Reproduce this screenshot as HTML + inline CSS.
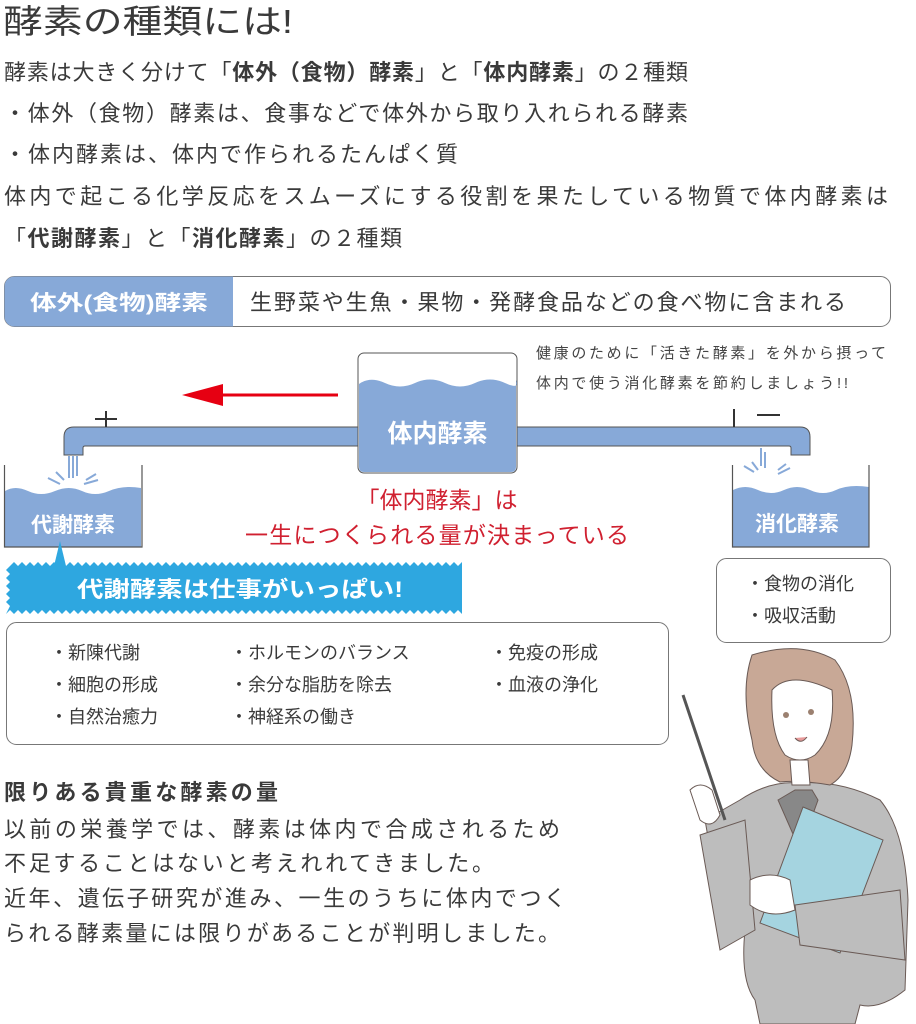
<!DOCTYPE html>
<html><head><meta charset="utf-8"><style>
html,body{margin:0;padding:0;background:#fff;}
svg{display:block;font-family:"Liberation Sans","Noto Sans CJK JP",sans-serif;}
</style></head><body>
<svg width="916" height="1024" viewBox="0 0 916 1024" xmlns="http://www.w3.org/2000/svg">
<g fill="#3a3a3a">
<text x="3" y="33" font-size="33" textLength="290" lengthAdjust="spacingAndGlyphs">酵素の種類には!</text>
<text x="4" y="80" font-size="22" textLength="684" lengthAdjust="spacing">酵素は大きく分けて「<tspan font-weight="bold">体外（食物）酵素</tspan>」と「<tspan font-weight="bold">体内酵素</tspan>」の２種類</text>
<text x="4" y="121" font-size="22" textLength="684" lengthAdjust="spacing">・体外（食物）酵素は、食事などで体外から取り入れられる酵素</text>
<text x="4" y="162" font-size="22" textLength="454" lengthAdjust="spacing">・体内酵素は、体内で作られるたんぱく質</text>
<text x="4" y="204" font-size="22" textLength="884" lengthAdjust="spacing">体内で起こる化学反応をスムーズにする役割を果たしている物質で体内酵素は</text>
<text x="4" y="246" font-size="22" textLength="398" lengthAdjust="spacing">「<tspan font-weight="bold">代謝酵素</tspan>」と「<tspan font-weight="bold">消化酵素</tspan>」の２種類</text>
</g>
<rect x="4.5" y="276.5" width="886" height="50" rx="10" fill="#fff" stroke="#777" stroke-width="1"/>
<path d="M14.5 276.5 H233 V326.5 H14.5 A10 10 0 0 1 4.5 316.5 V286.5 A10 10 0 0 1 14.5 276.5Z" fill="#87a9d8"/>
<text x="30" y="310" font-size="21" font-weight="bold" fill="#fff" textLength="178" lengthAdjust="spacingAndGlyphs">体外(食物)酵素</text>
<text x="250" y="310" font-size="22" fill="#3a3a3a" textLength="596" lengthAdjust="spacing">生野菜や生魚・果物・発酵食品などの食べ物に含まれる</text>
<text x="536" y="358" font-size="15" fill="#444" textLength="350" lengthAdjust="spacing">健康のために「活きた酵素」を外から摂って</text>
<text x="536" y="388" font-size="15" fill="#444" textLength="312" lengthAdjust="spacing">体内で使う消化酵素を節約しましょう!!</text>
<path d="M358 427 H74 Q64 427 64 437 V455 H83 V448 Q83 446 85 446 H358Z" fill="#87a9d8" stroke="#555" stroke-width="1"/>
<path d="M517 427 H800 Q810 427 810 437 V455 H791 V448 Q791 446 789 446 H517Z" fill="#87a9d8" stroke="#555" stroke-width="1"/>
<rect x="358" y="353" width="159" height="120" rx="6" fill="#fff" stroke="#555" stroke-width="1"/>
<path d="M359 384 Q370 376 385 383 T415 383 T445 383 T475 383 T505 383 T516 380 V467 Q516 472 511 472 H364 Q359 472 359 467Z" fill="#87a9d8"/>
<text x="437.5" y="442" font-size="25" font-weight="bold" fill="#fff" text-anchor="middle">体内酵素</text>
<path d="M95 419 H117 M106 411 V427" stroke="#333" stroke-width="2"/>
<path d="M734 409 V427 M757 415 H780" stroke="#333" stroke-width="2"/>
<path d="M338 395 H220" stroke="#e60012" stroke-width="3"/>
<polygon points="182,395 223,384 223,406" fill="#e60012"/>
<path d="M5 491 Q15 485 28 491 T55 491 T82 491 T109 491 T141 488 V547 H5Z" fill="#87a9d8"/>
<path d="M4.5 465 V547 H142 V465" fill="none" stroke="#555" stroke-width="1.2"/>
<g stroke="#87a9d8" stroke-width="2" fill="none"><path d="M69 456 V478 M73 456 V478 M77 456 V476 M48 478 L60 484 M56 472 L64 480 M86 480 L96 474 M84 484 L98 480"/></g>
<text x="73" y="532" font-size="21" font-weight="bold" fill="#fff" text-anchor="middle">代謝酵素</text>
<path d="M733 490 Q745 484 758 490 T784 490 T810 490 T836 490 T869 487 V547 H733Z" fill="#87a9d8"/>
<path d="M732.5 465 V547 H869 V465" fill="none" stroke="#555" stroke-width="1.2"/>
<g stroke="#87a9d8" stroke-width="2" fill="none"><path d="M761 448 V466 M765 452 V468 M744 466 L754 472 M752 462 L758 470 M778 470 L786 464 M778 474 L790 468"/></g>
<text x="797" y="531" font-size="21" font-weight="bold" fill="#fff" text-anchor="middle">消化酵素</text>
<text x="437" y="508" font-size="23" fill="#d02030" text-anchor="middle">「体内酵素」は</text>
<text x="437" y="543" font-size="23" fill="#d02030" text-anchor="middle" textLength="384" lengthAdjust="spacing">一生につくられる量が決まっている</text>
<polygon points="60,541 54,566 66,566" fill="#2ea7e0"/>
<rect x="10" y="566" width="449" height="44" fill="#2ea7e0"/>
<polyline fill="#2ea7e0" points="6,562 10,566 14,562 18,566 22,562 26,566 30,562 34,566 38,562 42,566 46,562 50,566 54,562 58,566 62,562 66,566 70,562 74,566 78,562 82,566 86,562 90,566 94,562 98,566 102,562 106,566 110,562 114,566 118,562 122,566 126,562 130,566 134,562 138,566 142,562 146,566 150,562 154,566 158,562 162,566 166,562 170,566 174,562 178,566 182,562 186,566 190,562 194,566 198,562 202,566 206,562 210,566 214,562 218,566 222,562 226,566 230,562 234,566 238,562 242,566 246,562 250,566 254,562 258,566 262,562 266,566 270,562 274,566 278,562 282,566 286,562 290,566 294,562 298,566 302,562 306,566 310,562 314,566 318,562 322,566 326,562 330,566 334,562 338,566 342,562 346,566 350,562 354,566 358,562 362,566 366,562 370,566 374,562 378,566 382,562 386,566 390,562 394,566 398,562 402,566 406,562 410,566 414,562 418,566 422,562 426,566 430,562 434,566 438,562 442,566 446,562 450,566 454,562 458,566 462,562 462,614 458,610 454,614 450,610 446,614 442,610 438,614 434,610 430,614 426,610 422,614 418,610 414,614 410,610 406,614 402,610 398,614 394,610 390,614 386,610 382,614 378,610 374,614 370,610 366,614 362,610 358,614 354,610 350,614 346,610 342,614 338,610 334,614 330,610 326,614 322,610 318,614 314,610 310,614 306,610 302,614 298,610 294,614 290,610 286,614 282,610 278,614 274,610 270,614 266,610 262,614 258,610 254,614 250,610 246,614 242,610 238,614 234,610 230,614 226,610 222,614 218,610 214,614 210,610 206,614 202,610 198,614 194,610 190,614 186,610 182,614 178,610 174,614 170,610 166,614 162,610 158,614 154,610 150,614 146,610 142,614 138,610 134,614 130,610 126,614 122,610 118,614 114,610 110,614 106,610 102,614 98,610 94,614 90,610 86,614 82,610 78,614 74,610 70,614 66,610 62,614 58,610 54,614 50,610 46,614 42,610 38,614 34,610 30,614 26,610 22,614 18,610 14,614 10,610 6,614 10,606 6,602 10,598 6,594 10,590 6,586 10,582 6,578 10,574 6,570 10,566 6,562"/>
<text x="240" y="597" font-size="22" font-weight="bold" fill="#fff" text-anchor="middle" textLength="326" lengthAdjust="spacingAndGlyphs">代謝酵素は仕事がいっぱい!</text>
<rect x="6.5" y="622.5" width="662" height="122" rx="10" fill="#fff" stroke="#777"/>
<g font-size="18" fill="#3a3a3a">
<text x="50" y="659">・新陳代謝</text>
<text x="50" y="691">・細胞の形成</text>
<text x="50" y="723">・自然治癒力</text>
<text x="230" y="659">・ホルモンのバランス</text>
<text x="230" y="691">・余分な脂肪を除去</text>
<text x="230" y="723">・神経系の働き</text>
<text x="490" y="659">・免疫の形成</text>
<text x="490" y="691">・血液の浄化</text>
</g>
<rect x="716.5" y="558.5" width="174" height="84" rx="10" fill="#fff" stroke="#777"/>
<g font-size="18" fill="#3a3a3a">
<text x="746" y="590">・食物の消化</text>
<text x="746" y="622">・吸収活動</text>
</g>
<g font-size="22" fill="#3a3a3a">
<text x="4" y="800" font-weight="bold" textLength="274" lengthAdjust="spacing">限りある貴重な酵素の量</text>
<text x="4" y="837" textLength="556" lengthAdjust="spacing">以前の栄養学では、酵素は体内で合成されるため</text>
<text x="4" y="871" textLength="490" lengthAdjust="spacing">不足することはないと考えれれてきました。</text>
<text x="4" y="906" textLength="562" lengthAdjust="spacing">近年、遺伝子研究が進み、一生のうちに体内でつく</text>
<text x="4" y="941" textLength="556" lengthAdjust="spacing">られる酵素量には限りがあることが判明しました。</text>
</g>
<g stroke="#6a5a55" stroke-width="1">
<path d="M740 800 Q770 780 800 783 Q840 780 880 800 Q905 830 908 900 L905 990 Q880 1010 860 1005 L855 1024 H760 L755 1000 Q740 980 745 930 Q725 900 712 860 L705 820 Z" fill="#bdbdbd"/>
<path d="M778 800 L795 790 L812 790 L818 800 L800 850 Z" fill="#888"/>
<path d="M752 655 Q800 640 835 660 Q858 690 852 745 Q848 775 830 785 Q800 780 780 782 Q755 770 752 740 Q740 690 752 655Z" fill="#c8a896"/>
<path d="M772 690 Q790 670 832 690 Q836 735 815 755 Q800 765 785 755 Q770 735 772 690Z" fill="#fff"/>
<path d="M790 760 L792 785 L810 785 L808 760Z" fill="#fff"/>
<circle cx="786" cy="715" r="3" fill="#9b8070" stroke="none"/>
<circle cx="811" cy="712" r="3" fill="#9b8070" stroke="none"/>
<path d="M795 738 Q801 745 807 737" fill="#e89a9a"/>
<path d="M803 807 L883 840 L840 953 L760 923Z" fill="#a5d4e0"/>
<path d="M683 695 L725 820" stroke="#555" stroke-width="3"/>
<path d="M690 790 Q700 780 712 790 L720 815 Q712 830 700 820 Z" fill="#fff"/>
<path d="M700 835 L745 820 L755 930 L720 950 Z" fill="#bdbdbd"/>
<path d="M750 880 Q770 870 790 880 L795 910 Q770 920 750 905Z" fill="#fff"/>
<path d="M795 905 L900 890 L905 960 L800 945Z" fill="#bdbdbd"/>
</g>
</svg>
</body></html>
